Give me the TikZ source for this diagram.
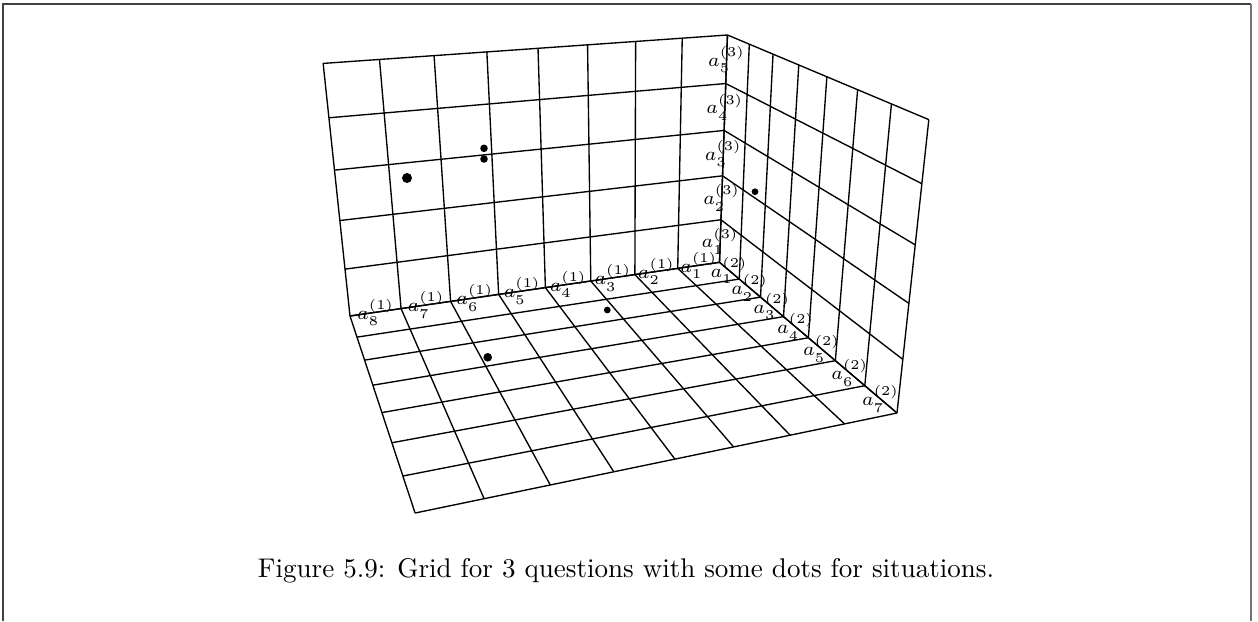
\documentclass[tikz,border=0pt]{standalone}
\usepackage{tikz}

\newcommand\setpt[4]{%
  \pgfmathsetmacro\projw{1-0.109*(#2)/8-0.248*(#3)/7-0.079*(#4)/5}%
  \pgfmathsetmacro\projx{(719.5-407.65*(#2)/8-44.96*(#3)/7-49.47*(#4)/5)/\projw}%
  \pgfmathsetmacro\projy{(262.3+19.26*(#2)/8+48.28*(#3)/7-230.07*(#4)/5)/\projw}%
  \coordinate (#1) at (\projx,\projy);}

\begin{document}
\begin{tikzpicture}[x=0.37pt,y=-0.37pt,
  gridline/.style={line width=0.5pt},
  lbl/.style={font=\scriptsize,inner sep=0pt},
  frame/.style={line width=0.5pt,black!75},
  dot/.style={circle,fill=black,inner sep=0pt}
]
  \useasboundingbox (0,0) rectangle (1258,621);
  \draw[frame] (3,621) -- (3,4) -- (1251,4);
  \draw[frame,black!55] (1251,4) -- (1251,621);

  \foreach \i in {0,...,8}{
    \setpt{b\i}{\i}{0}{0}
    \setpt{t\i}{\i}{0}{5}
    \setpt{f\i}{\i}{7}{0}
  }
  \foreach \j in {0,...,7}{
    \setpt{r\j}{0}{\j}{0}
    \setpt{l\j}{8}{\j}{0}
    \setpt{u\j}{0}{\j}{5}
  }
  \foreach \k in {0,...,5}{
    \setpt{c\k}{0}{0}{\k}
    \setpt{w\k}{8}{0}{\k}
    \setpt{e\k}{0}{7}{\k}
  }
  \foreach \i in {0,...,8} \draw[gridline] (b\i) -- (t\i) (b\i) -- (f\i);
  \foreach \j in {0,...,7} \draw[gridline] (r\j) -- (l\j) (r\j) -- (u\j);
  \foreach \k in {0,...,5} \draw[gridline] (c\k) -- (w\k) (c\k) -- (e\k);

  \foreach \i in {1,...,8}{
    \setpt{m1\i}{\i-0.5}{0}{0}
    \node[lbl] (qa\i) at (m1\i) {$a^{(1)}_{\i}$};
  }
  \foreach \j in {1,...,7}{
    \setpt{m2\j}{0}{\j-0.5}{0}
    \node[lbl] (qb\j) at (m2\j) {$a^{(2)}_{\j}$};
  }
  \foreach \k in {1,...,5}{
    \setpt{m3\k}{0}{0}{\k-0.5}
    \node[lbl] (qc\k) at (m3\k) {$a^{(3)}_{\k}$};
  }

  \node[dot,minimum size=3.7pt] (s1) at (407,178) {};
  \node[dot,minimum size=2.8pt] (s2) at (484,148.3) {};
  \node[dot,minimum size=2.8pt] (s3) at (484,159) {};
  \node[dot,minimum size=2.5pt] (s4) at (755,191.7) {};
  \node[dot,minimum size=2.5pt] (s5) at (607.3,310) {};
  \node[dot,minimum size=3.2pt] (s6) at (487.7,357.3) {};

  \node (cap) at (626,571) {Figure 5.9: Grid for 3 questions with some dots for situations.};
\end{tikzpicture}
\end{document}
